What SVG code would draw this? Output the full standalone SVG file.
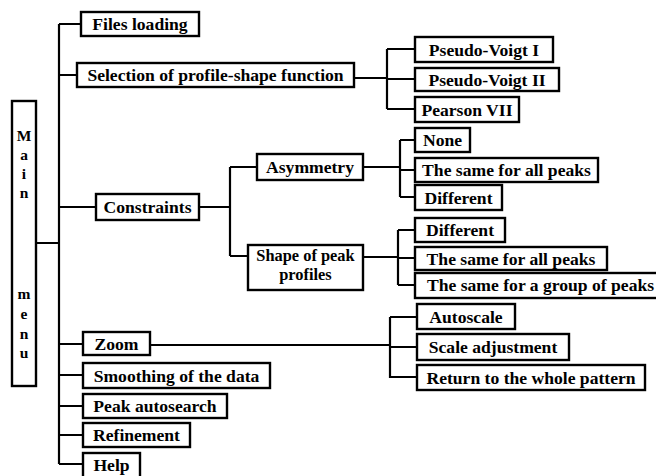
<svg xmlns="http://www.w3.org/2000/svg" width="656" height="476" viewBox="0 0 656 476">
<style>
.b{fill:#fff;stroke:#000;stroke-width:2.4}
.t{font-family:"Liberation Serif","Times New Roman",serif;font-weight:bold;font-size:17.6px;fill:#000;text-anchor:middle}
.m{font-size:15.5px}
.s{font-size:16.4px}
.c{fill:none;stroke:#000;stroke-width:2.2}
</style>
<rect width="656" height="476" fill="#fff"/>
<g id="connectors">
<path class="c" d="M36 243H59M59 24V464M59 24H81M59 75H77M59 207H96M59 344H83M59 375H83M59 406H83M59 435H83M59 464H83"/>
<path class="c" d="M354 78H387M387 49V109M387 49H415M387 79H415M387 109H415"/>
<path class="c" d="M199 207H230M230 167V256M230 167H257M230 256H248"/>
<path class="c" d="M363 167H400M400 140V197M400 140H415M400 170H415M400 197H415"/>
<path class="c" d="M363 257H398M398 230V285M398 230H415M398 258H415M398 285H415"/>
<path class="c" d="M150 345H390M390 317V378M390 317H417M390 347H417M390 377H417"/>
</g>
<g id="main"><rect class="b" x="12" y="101" width="24" height="285"/>
<text class="t m" x="24" y="141">M</text><text class="t m" x="24" y="160">a</text><text class="t m" x="24" y="179">i</text><text class="t m" x="24" y="198">n</text>
<text class="t m" x="24" y="299">m</text><text class="t m" x="24" y="319">e</text><text class="t m" x="24" y="339">n</text><text class="t m" x="24" y="358">u</text></g>
<g id="files"><rect class="b" x="81" y="12" width="118" height="24"/><text class="t" x="140" y="30">Files loading</text></g>
<g id="selection"><rect class="b" x="77" y="63" width="277" height="24"/><text class="t" x="215.5" y="81">Selection of profile-shape function</text></g>
<g id="pv1"><rect class="b" x="415" y="37" width="138" height="25"/><text class="t" x="484" y="55.5">Pseudo-Voigt I</text></g>
<g id="pv2"><rect class="b" x="415" y="68" width="144" height="23"/><text class="t" x="487" y="85.5">Pseudo-Voigt II</text></g>
<g id="p7"><rect class="b" x="415" y="97" width="104" height="25"/><text class="t" x="467" y="115.5">Pearson VII</text></g>
<g id="none"><rect class="b" x="415" y="128" width="55" height="24"/><text class="t" x="442.5" y="146">None</text></g>
<g id="asame"><rect class="b" x="415" y="158" width="183" height="24"/><text class="t" x="506.5" y="176">The same for all peaks</text></g>
<g id="adiff"><rect class="b" x="415" y="185" width="87" height="25"/><text class="t" x="458.5" y="203.5">Different</text></g>
<g id="asym"><rect class="b" x="257" y="154" width="106" height="26"/><text class="t" x="310" y="173">Asymmetry</text></g>
<g id="constraints"><rect class="b" x="96" y="194" width="103" height="26"/><text class="t" x="147.5" y="213">Constraints</text></g>
<g id="shape"><rect class="b" x="248" y="245" width="115" height="45"/><text class="t s" x="305.5" y="261">Shape of peak</text><text class="t s" x="305.5" y="280">profiles</text></g>
<g id="sdiff"><rect class="b" x="415" y="218" width="90" height="24"/><text class="t" x="460" y="236">Different</text></g>
<g id="ssame"><rect class="b" x="415" y="247" width="192" height="23"/><text class="t" x="511" y="264.5">The same for all peaks</text></g>
<g id="sgroup"><rect class="b" x="415" y="273" width="250" height="25"/><text class="t" x="427" y="291" style="text-anchor:start">The same for a group of peaks</text></g>
<g id="zoom"><rect class="b" x="83" y="332" width="67" height="23"/><text class="t" x="116.5" y="349.5">Zoom</text></g>
<g id="autoscale"><rect class="b" x="417" y="304" width="98" height="25"/><text class="t" x="466" y="322.5">Autoscale</text></g>
<g id="scale"><rect class="b" x="417" y="334" width="152" height="26"/><text class="t" x="493" y="353">Scale adjustment</text></g>
<g id="return"><rect class="b" x="417" y="365" width="228" height="25"/><text class="t" x="531" y="383.5">Return to the whole pattern</text></g>
<g id="smoothing"><rect class="b" x="83" y="363" width="187" height="25"/><text class="t" x="176.5" y="381.5">Smoothing of the data</text></g>
<g id="autosearch"><rect class="b" x="83" y="394" width="144" height="24"/><text class="t" x="155" y="412">Peak autosearch</text></g>
<g id="refinement"><rect class="b" x="83" y="423" width="107" height="24"/><text class="t" x="136.5" y="441">Refinement</text></g>
<g id="help"><rect class="b" x="83" y="453" width="57" height="26"/><text class="t" x="111.5" y="471">Help</text></g>
</svg>
